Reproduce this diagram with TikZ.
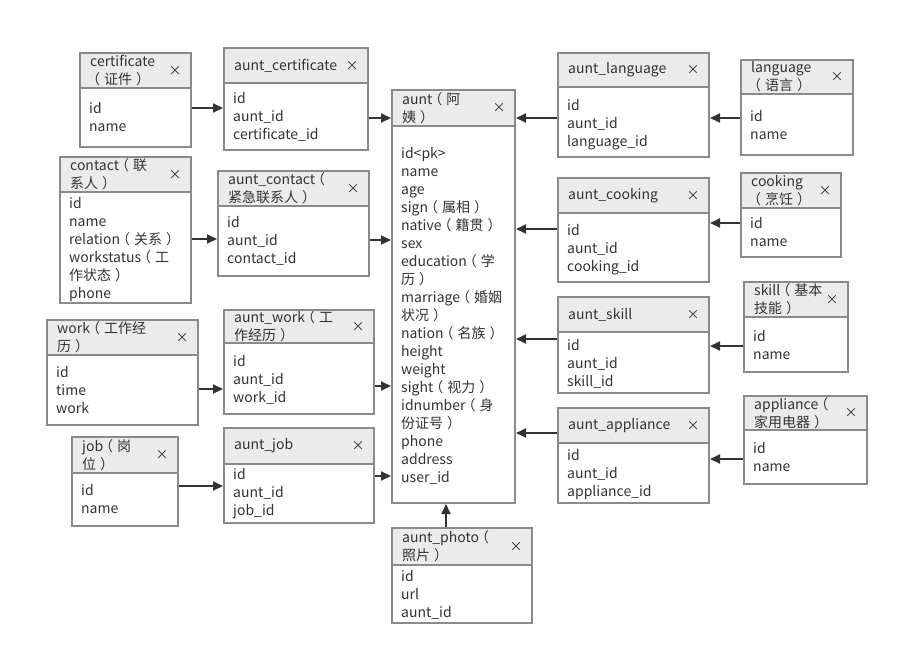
\documentclass[tikz,border=0pt]{standalone}
\usepackage{fontspec}
\setmainfont{Noto Sans CJK SC}
\usetikzlibrary{arrows.meta,fit}
\definecolor{bordc}{HTML}{8A8A8A}
\definecolor{hdrc}{HTML}{EBEBEB}
\definecolor{txtc}{HTML}{333333}
\definecolor{arrc}{HTML}{333333}
\newcommand\lp{\kern-4pt（\kern4pt}
\newcommand\rp{\kern4pt）\kern-4pt}
\tikzset{
  tbox/.style={draw=bordc, line width=2pt, inner sep=0pt},
  tlabel/.style={anchor=west, align=left, inner sep=0pt, text=txtc, font=\fontsize{14}{18}\selectfont},
  xmark/.style={inner sep=0pt, text=txtc, font=\fontsize{13}{16}\selectfont},
  rows/.style={anchor=base west, inner sep=0pt, text=txtc, font=\fontsize{14}{18}\selectfont},
  arr/.style={draw=arrc, line width=2pt, -{Triangle[length=10pt,width=9pt]}},
}
\newcommand\erbox[9]{%
  \fill[hdrc] (#2,#3) rectangle (#4,#6);
  \begin{scope}
    \clip (#2,#3) rectangle (#4,#6);
    \node[tlabel] at (#2+10,{(#3+#6)/2}) {#7};
  \end{scope}
  \node[xmark] at (#4-16,{(#3+#6)/2}) {×};
  \node[rows] at (#2+9,#8) {\begin{tabular}[t]{@{}l@{}}#9\end{tabular}};
  \draw[bordc, line width=2pt] (#2,#6) -- (#4,#6);
  \node[tbox, fit={(#2,#3) (#4,#5)}] (#1) {};
}
\begin{document}
\begin{tikzpicture}[x=1pt,y=-1pt]
\useasboundingbox[fill=white] (0,0) rectangle (899,656);
\erbox{certificate}{80}{53}{191}{147}{88}{certificate\\\lp 证件\rp}{113}{id\\name}
\erbox{auntcert}{224}{48}{368}{150}{83}{aunt\_certificate}{103}{id\\aunt\_id\\certificate\_id}
\erbox{contact}{60}{157}{191}{303}{192}{contact\lp 联\\系人\rp}{208}{id\\name\\relation\lp 关系\rp\\workstatus\lp 工\\作状态\rp\\phone}
\erbox{auntcontact}{218}{171}{369}{276}{206}{aunt\_contact\lp\\紧急联系人\rp}{227}{id\\aunt\_id\\contact\_id}
\erbox{work}{47}{320}{198}{425}{355}{work\lp 工作经\\历\rp}{377}{id\\time\\work}
\erbox{auntwork}{224}{310}{374}{414}{343}{aunt\_work\lp 工\\作经历\rp}{366}{id\\aunt\_id\\work\_id}
\erbox{job}{72}{437}{178}{526}{473}{job\lp 岗\\位\rp}{495}{id\\name}
\erbox{auntjob}{224}{428}{374}{523}{464}{aunt\_job}{479}{id\\aunt\_id\\job\_id}
\erbox{aunt}{392}{90}{515}{503}{126}{aunt\lp 阿\\姨\rp}{158}{id<pk>\\name\\age\\sign\lp 属相\rp\\native\lp 籍贯\rp\\sex\\education\lp 学\\历\rp\\marriage\lp 婚姻\\状况\rp\\nation\lp 名族\rp\\height\\weight\\sight\lp 视力\rp\\idnumber\lp 身\\份证号\rp\\phone\\address\\user\_id}
\erbox{auntphoto}{392}{528}{532}{623}{565}{aunt\_photo\lp\\照片\rp}{581}{id\\url\\aunt\_id}
\erbox{auntlang}{558}{53}{709}{157}{87}{aunt\_language}{110}{id\\aunt\_id\\language\_id}
\erbox{language}{741}{60}{853}{155}{94}{language\\\lp 语言\rp}{121}{id\\name}
\erbox{auntcook}{558}{178}{709}{282}{213}{aunt\_cooking}{235}{id\\aunt\_id\\cooking\_id}
\erbox{cooking}{741}{173}{841}{257}{208}{cooking\\\lp 烹饪\rp}{228}{id\\name}
\erbox{auntskill}{558}{297}{709}{393}{332}{aunt\_skill}{350}{id\\aunt\_id\\skill\_id}
\erbox{skill}{744}{282}{848}{372}{317}{skill\lp 基本\\技能\rp}{341}{id\\name}
\erbox{auntappl}{558}{408}{709}{503}{443}{aunt\_appliance}{460}{id\\aunt\_id\\appliance\_id}
\erbox{appliance}{744}{396}{867}{484}{430}{appliance\lp\\家用电器\rp}{453}{id\\name}
% connector heights
\coordinate (h108) at (0,108);
\coordinate (h118) at (0,118);
\coordinate (h239) at (0,239);
\coordinate (h240) at (0,240);
\coordinate (h389) at (0,389);
\coordinate (h386) at (0,386);
\coordinate (h486) at (0,486);
\coordinate (h476) at (0,476);
\coordinate (h229) at (0,229);
\coordinate (h223) at (0,223);
\coordinate (h339) at (0,339);
\coordinate (h346) at (0,346);
\coordinate (h433) at (0,433);
\coordinate (h459) at (0,459);
\coordinate (v446) at (446,0);
% left side
\draw[arr] (certificate.east |- h108) -- (auntcert.west |- h108);
\draw[arr] (auntcert.east |- h118) -- (aunt.west |- h118);
\draw[arr] (contact.east |- h239) -- (auntcontact.west |- h239);
\draw[arr] (auntcontact.east |- h240) -- (aunt.west |- h240);
\draw[arr] (work.east |- h389) -- (auntwork.west |- h389);
\draw[arr] (auntwork.east |- h386) -- (aunt.west |- h386);
\draw[arr] (job.east |- h486) -- (auntjob.west |- h486);
\draw[arr] (auntjob.east |- h476) -- (aunt.west |- h476);
% bottom
\draw[arr] (v446 |- auntphoto.north) -- (v446 |- aunt.south);
% right side
\draw[arr] (auntlang.west |- h118) -- (aunt.east |- h118);
\draw[arr] (language.west |- h118) -- (auntlang.east |- h118);
\draw[arr] (auntcook.west |- h229) -- (aunt.east |- h229);
\draw[arr] (cooking.west |- h223) -- (auntcook.east |- h223);
\draw[arr] (auntskill.west |- h339) -- (aunt.east |- h339);
\draw[arr] (skill.west |- h346) -- (auntskill.east |- h346);
\draw[arr] (auntappl.west |- h433) -- (aunt.east |- h433);
\draw[arr] (appliance.west |- h459) -- (auntappl.east |- h459);
\end{tikzpicture}
\end{document}
